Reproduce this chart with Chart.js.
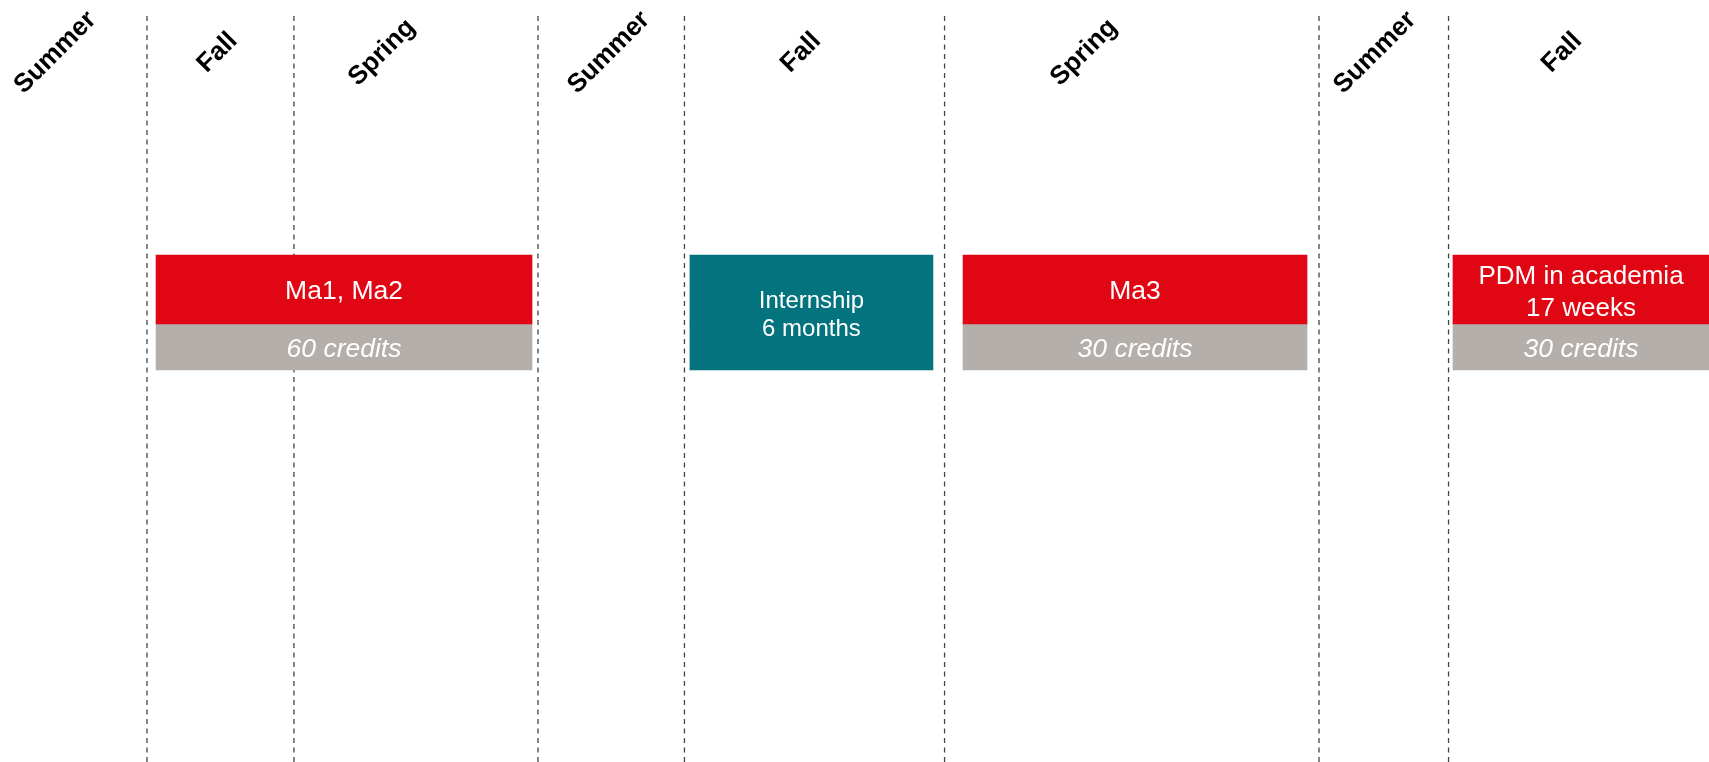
<!DOCTYPE html>
<html>
<head>
<meta charset="utf-8">
<title>Programme timeline</title>
<script src="https://cdn.jsdelivr.net/npm/chart.js@4.4.1/dist/chart.umd.min.js"></script>
<style>
    body { margin: 0; background: #fff; }
    #wrap { width: 1709px; height: 762px; position: relative; }
</style>
</head>
<body>
<div id="wrap"><canvas id="timeline"></canvas></div>
<script>
// timeline runs 0..100 (% of the page width)
const seasons = ['Summer', 'Fall', 'Spring', 'Summer', 'Fall', 'Spring', 'Summer', 'Fall'];
const seasonPos = [3.24, 12.73, 22.35, 35.63, 46.87, 63.43, 80.46, 91.4];
const boundaries = [8.6, 17.2, 31.48, 40.05, 55.27, 77.18, 84.76];

const blockNames = ['Ma1, Ma2', 'Internship\n6 months', 'Ma3', 'PDM in academia\n17 weeks'];
const blockStart = [9.13, 40.37, 56.35, 85.02];
const blockEnd = [31.13, 54.59, 76.48, 100];
const blockCredits = [60, null, 30, 30];

const RED = '#E10613';
const TEAL = '#03737E';
const GREY = '#B4AFAB';

// rows on the y scale: 1 = programme bar, 2 = credits bar
const PROG_ROW = 1, CREDIT_ROW = 2;

const progColors = blockCredits.map(c => c === null ? TEAL : RED);
const creditColors = blockCredits.map(c => c === null ? TEAL : GREY);

const blockText = {
    id: 'blockText',
    afterDatasetsDraw(chart) {
        const ctx = chart.ctx;
        const prog = chart.getDatasetMeta(0).data;
        const cred = chart.getDatasetMeta(1).data;
        ctx.save();
        ctx.fillStyle = '#fff';
        ctx.textAlign = 'center';
        ctx.textBaseline = 'middle';

        blockNames.forEach((name, i) => {
            const p = prog[i], c = cred[i];
            const cx = (p.x + p.base) / 2;
            const lines = name.split('\n');
            let cy, lh, size;
            if (blockCredits[i] === null) {
                // label spans both rows
                cy = ((p.y - p.height / 2) + (c.y + c.height / 2)) / 2 + 3;
                size = 24; lh = 28;
            } else {
                cy = p.y + (lines.length > 1 ? 3 : 2.5);
                size = lines.length > 1 ? 26 : 26.5;
                lh = 32;
            }
            ctx.font = `${size}px "Liberation Sans", Arial, sans-serif`;
            lines.forEach((ln, k) => {
                ctx.fillText(ln, cx, cy + (k - (lines.length - 1) / 2) * lh);
            });

            if (blockCredits[i] !== null) {
                const gx = (c.x + c.base) / 2;
                ctx.font = `italic 26.5px "Liberation Sans", Arial, sans-serif`;
                ctx.fillText(blockCredits[i] + ' credits', gx, c.y + 2.5);
            }
        });
        ctx.restore();
    }
};

const seasonLabels = {
    id: 'seasonLabels',
    afterDraw(chart) {
        const ctx = chart.ctx;
        const xs = chart.scales.x;
        const ys = chart.scales.y;
        const py = ys.getPixelForValue(-3.12);
        ctx.save();
        ctx.fillStyle = '#000';
        ctx.font = 'bold 26px "Liberation Sans", Arial, sans-serif';
        ctx.textAlign = 'center';
        ctx.textBaseline = 'middle';
        seasons.forEach((s, i) => {
            ctx.save();
            ctx.translate(xs.getPixelForValue(seasonPos[i]), py);
            ctx.rotate(-Math.PI / 4);
            ctx.fillText(s, 0, 0);
            ctx.restore();
        });
        ctx.restore();
    }
};

const yMin = -4.035, yMax = 9.217;
const lineTop = -3.757;

const lineSets = boundaries.map(b => ({
    type: 'line',
    data: [{ x: b, y: lineTop }, { x: b, y: yMax }],
    borderColor: '#444',
    borderWidth: 1.3,
    borderDash: [5, 4.5],
    pointRadius: 0,
    fill: false,
    order: 2
}));

new Chart(document.getElementById('timeline'), {
    type: 'bar',
    data: {
        datasets: [
            {
                label: 'programme',
                indexAxis: 'y',
                grouped: false,
                data: blockNames.map((n, i) => ({ x: [blockStart[i], blockEnd[i]], y: PROG_ROW })),
                backgroundColor: progColors,
                barThickness: 69,
                order: 0
            },
            {
                label: 'credits',
                indexAxis: 'y',
                grouped: false,
                data: blockNames.map((n, i) => ({ x: [blockStart[i], blockEnd[i]], y: CREDIT_ROW })),
                backgroundColor: creditColors,
                barThickness: 46,
                order: 0
            },
            ...lineSets
        ]
    },
    options: {
        responsive: true,
        maintainAspectRatio: false,
        devicePixelRatio: 1,
        animation: false,
        layout: { padding: 0 },
        scales: {
            x: { type: 'linear', min: 0, max: 100, offset: false, display: false },
            y: { type: 'linear', min: yMin, max: yMax, offset: false, reverse: true, display: false }
        },
        plugins: {
            legend: { display: false },
            tooltip: { enabled: false }
        }
    },
    plugins: [blockText, seasonLabels]
});
</script>
</body>
</html>
